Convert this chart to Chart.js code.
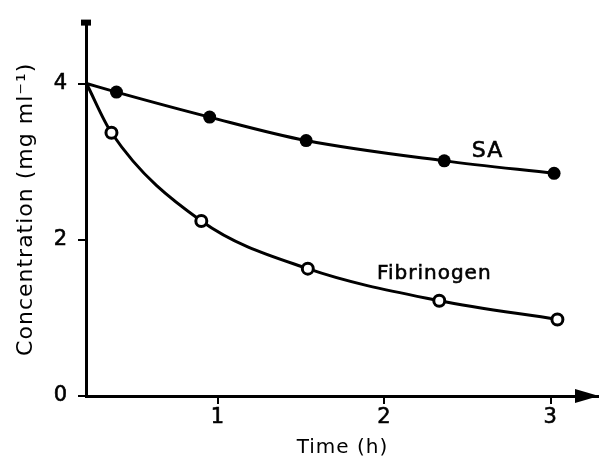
<!DOCTYPE html>
<html>
<head>
<meta charset="utf-8">
<script src="https://cdn.jsdelivr.net/npm/chart.js@4/dist/chart.umd.min.js"></script>
<style>
  html, body { margin: 0; padding: 0; background: #fff; }
  #wrap { width: 599px; height: 460px; position: relative; }
</style>
</head>
<body>
<div id="wrap"><canvas id="chart"></canvas></div>
<script>
// --- Data ---
const timeSA = [0.21, 0.39, 0.95, 1.53, 2.36, 3.02];
const concSA = [4.0, 3.89, 3.57, 3.27, 3.01, 2.85];
const timeFib = [0.21, 0.36, 0.9, 1.54, 2.33, 3.04];
const concFib = [4.0, 3.37, 2.24, 1.63, 1.22, 0.98];
const xTicks = [1, 2, 3];
const yTicks = [0, 2, 4];

// curve labels (text and where they sit, in data units)
const curveLabels = [
  { text: "SA", x: 2.62, y: 3.13, size: 22 },
  { text: "Fibrinogen", x: 2.3, y: 1.57, size: 20 },
];

const FONT = "'DejaVu Sans', sans-serif";

const toPoints = (xs, ys) => xs.map((x, i) => ({ x, y: ys[i] }));

// hide the marker on the starting point at the axis
const radii = (n, r) => Array.from({ length: n }, (_, i) => (i === 0 ? 0 : r));

// --- Decorations: axis arrow, top cap, curve labels ---
const decor = {
  id: "decor",
  beforeDraw(chart) {
    chart.ctx.letterSpacing = "1px";
  },
  afterDraw(chart) {
    const { ctx, chartArea: area, scales } = chart;
    ctx.save();
    ctx.fillStyle = "#000";
    ctx.strokeStyle = "#000";

    // arrowhead on the time axis
    ctx.beginPath();
    ctx.moveTo(area.right - 24, area.bottom - 7);
    ctx.lineTo(area.right, area.bottom);
    ctx.lineTo(area.right - 24, area.bottom + 7);
    ctx.closePath();
    ctx.fill();

    // small cap on top of the concentration axis
    ctx.fillRect(area.left - 5, area.top - 3, 10, 6);

    ctx.textAlign = "center";
    ctx.textBaseline = "middle";
    ctx.lineWidth = 0.6;
    curveLabels.forEach((l) => {
      const px = scales.x.getPixelForValue(l.x);
      const py = scales.y.getPixelForValue(l.y);
      ctx.font = `${l.size}px ${FONT}`;
      ctx.fillText(l.text, px, py);
      ctx.strokeText(l.text, px, py);
    });
    ctx.restore();
  },
};

new Chart(document.getElementById("chart"), {
  type: "scatter",
  data: {
    datasets: [
      {
        label: "SA",
        data: toPoints(timeSA, concSA),
        showLine: true,
        borderColor: "#000",
        borderWidth: 3,
        cubicInterpolationMode: "monotone",
        pointRadius: radii(timeSA.length, 6.5),
        pointBackgroundColor: "#000",
        pointBorderColor: "#000",
        pointBorderWidth: 0,
      },
      {
        label: "Fibrinogen",
        data: toPoints(timeFib, concFib),
        showLine: true,
        borderColor: "#000",
        borderWidth: 3,
        cubicInterpolationMode: "monotone",
        pointRadius: radii(timeFib.length, 5.5),
        pointBackgroundColor: "#fff",
        pointBorderColor: "#000",
        pointBorderWidth: 3,
      },
    ],
  },
  options: {
    responsive: true,
    maintainAspectRatio: false,
    animation: false,
    layout: { autoPadding: false, padding: { top: 15, right: 0, bottom: 0, left: 0 } },
    plugins: {
      legend: { display: false },
      tooltip: { enabled: false },
    },
    scales: {
      x: {
        type: "linear",
        min: 0.207,
        max: 3.29,
        afterBuildTicks: (scale) => {
          scale.ticks = xTicks.map((v) => ({ value: v }));
        },
        afterFit: (scale) => {
          scale.height = 64;
        },
        border: { display: true, color: "#000", width: 3 },
        grid: { drawOnChartArea: false, drawTicks: true, tickLength: 8, color: "#000", lineWidth: 2 },
        ticks: {
          color: "#000",
          padding: 1,
          textStrokeColor: "#000",
          textStrokeWidth: 0.6,
          font: { family: FONT, size: 21 },
        },
        title: {
          display: true,
          text: "Time (h)",
          color: "#000",
          font: { family: FONT, size: 20 },
          padding: { top: 0, bottom: 0 },
        },
      },
      y: {
        type: "linear",
        min: 0,
        max: 4.78,
        afterBuildTicks: (scale) => {
          scale.ticks = yTicks.map((v) => ({ value: v }));
        },
        afterFit: (scale) => {
          scale.width = 86;
        },
        border: { display: true, color: "#000", width: 3 },
        grid: { drawOnChartArea: false, drawTicks: true, tickLength: 8, color: "#000", lineWidth: 2 },
        ticks: {
          color: "#000",
          padding: 10,
          textStrokeColor: "#000",
          textStrokeWidth: 0.6,
          font: { family: FONT, size: 21 },
        },
        title: {
          display: true,
          text: "Concentration (mg ml⁻¹)",
          color: "#000",
          font: { family: FONT, size: 22 },
          padding: { top: 13, bottom: 0 },
        },
      },
    },
  },
  plugins: [decor],
});
</script>
</body>
</html>
